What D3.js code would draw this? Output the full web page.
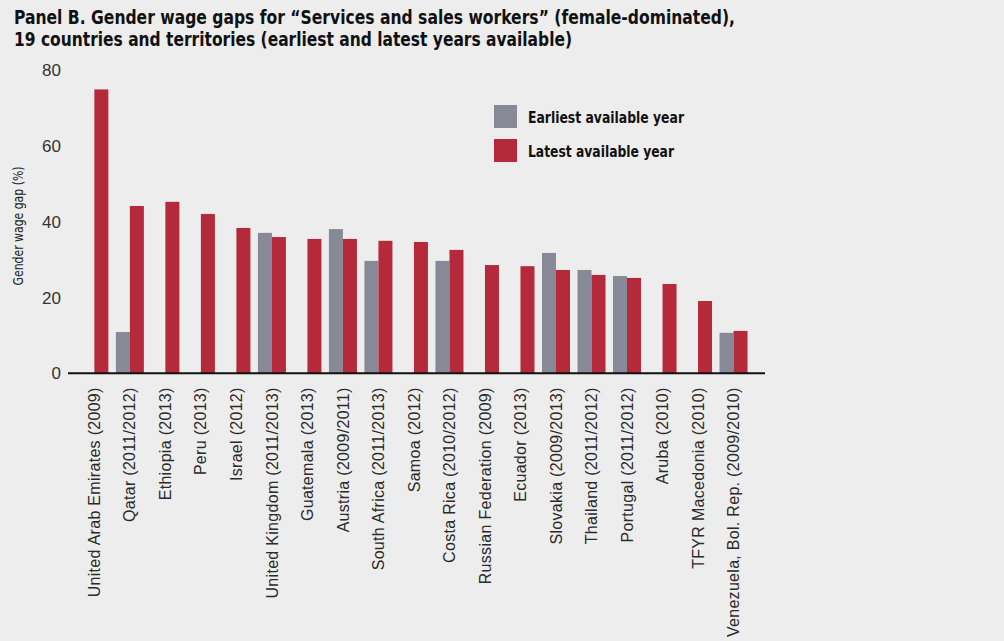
<!DOCTYPE html>
<html>
<head>
<meta charset="utf-8">
<script src="https://cdn.jsdelivr.net/npm/d3@7"></script>
<style>
  html, body { margin: 0; padding: 0; background: #ededed; }
  svg { display: block; }
</style>
</head>
<body>
<svg id="chart" width="1004" height="641"></svg>
<script>
const titleLines = [
  "Panel B. Gender wage gaps for \u201cServices and sales workers\u201d (female-dominated),",
  "19 countries and territories (earliest and latest years available)"
];
const yAxisTitle = "Gender wage gap (%)";
const categories = [
  "United Arab Emirates (2009)", "Qatar (2011/2012)", "Ethiopia (2013)", "Peru (2013)",
  "Israel (2012)", "United Kingdom (2011/2013)", "Guatemala (2013)", "Austria (2009/2011)",
  "South Africa (2011/2013)", "Samoa (2012)", "Costa Rica (2010/2012)", "Russian Federation (2009)",
  "Ecuador (2013)", "Slovakia (2009/2013)", "Thailand (2011/2012)", "Portugal (2011/2012)",
  "Aruba (2010)", "TFYR Macedonia (2010)", "Venezuela, Bol. Rep. (2009/2010)"
];
const earliest = [null, 10.9, null, null, null, 37.1, null, 38.1, 29.7, null, 29.7, null, null, 31.8, 27.3, 25.7, null, null, 10.7];
const latest   = [75.0, 44.2, 45.3, 42.1, 38.4, 36.0, 35.5, 35.5, 35.0, 34.7, 32.6, 28.6, 28.3, 27.3, 26.0, 25.2, 23.6, 19.1, 11.2];
const seriesNames = ["Earliest available year", "Latest available year"];
const seriesColors = ["#878a96", "#b52a3b"];
const yTicks = [0, 20, 40, 60, 80];

const svg = d3.select("#chart");
const condensed = "'Liberation Sans Narrow', 'DejaVu Sans Condensed', 'Roboto Condensed', sans-serif";

// Title
const title = svg.append("g");
titleLines.forEach((t, i) => {
  title.append("text")
    .attr("x", 14).attr("y", 24 + i * 22)
    .attr("font-family", condensed)
    .attr("font-weight", "bold")
    .attr("font-size", 19)
    .attr("fill", "#111")
    .attr("textLength", i === 0 ? 721 : 558)
    .attr("lengthAdjust", "spacingAndGlyphs")
    .text(t);
});

const y = d3.scaleLinear().domain([0, 80]).range([373.3, 70.5]);
const x = d3.scaleBand().domain(categories).range([76.6, 751.3]).paddingInner(0.2115).paddingOuter(0.1058);
const xs = d3.scaleBand().domain([0, 1]).range([0, x.bandwidth()]);

// Y tick labels
const yAxis = d3.axisLeft(y).tickValues(yTicks).tickSize(0).tickPadding(0);
const yg = svg.append("g").attr("transform", "translate(61,0)").call(yAxis);
yg.select(".domain").remove();
yg.selectAll("text")
  .attr("font-family", "'Liberation Sans', Arial, sans-serif")
  .attr("font-size", 17)
  .attr("fill", "#333");

// Y axis title
svg.append("text")
  .attr("transform", "translate(23,226) rotate(-90)")
  .attr("text-anchor", "middle")
  .attr("font-family", condensed)
  .attr("font-size", 14)
  .attr("fill", "#222")
  .attr("textLength", 119)
  .attr("lengthAdjust", "spacingAndGlyphs")
  .text(yAxisTitle);

// Bars
const data = categories.map((c, i) => ({ c, vals: [earliest[i], latest[i]] }));
const groups = svg.append("g").selectAll("g").data(data).join("g")
  .attr("transform", d => `translate(${x(d.c)},0)`);
groups.selectAll("rect")
  .data(d => d.vals.map((v, k) => ({ v, k })).filter(e => e.v !== null))
  .join("rect")
  .attr("x", e => xs(e.k))
  .attr("width", xs.bandwidth())
  .attr("y", e => y(e.v))
  .attr("height", e => y(0) - y(e.v))
  .attr("fill", e => seriesColors[e.k]);

// X axis line
svg.append("line")
  .attr("x1", 68).attr("x2", 765)
  .attr("y1", y(0)).attr("y2", y(0))
  .attr("stroke", "#111").attr("stroke-width", 2);

// X labels
const xAxis = d3.axisBottom(x).tickSize(0).tickPadding(0);
const xg = svg.append("g").attr("transform", `translate(0,${y(0)})`).call(xAxis);
xg.select(".domain").remove();
xg.selectAll("text")
  .attr("font-family", "'Liberation Sans', Arial, sans-serif")
  .attr("font-size", 16)
  .attr("letter-spacing", "0.3px")
  .attr("fill", "#2a2a2a")
  .attr("text-anchor", "end")
  .attr("dy", "0.35em")
  .attr("transform", "translate(0,14) rotate(-90)")
  .attr("x", 0).attr("y", 0);

// Legend
const legendLengths = [156, 146];
const legend = svg.append("g");
seriesNames.forEach((s, i) => {
  legend.append("rect")
    .attr("x", 494).attr("y", 105 + i * 34)
    .attr("width", 23).attr("height", 23)
    .attr("fill", seriesColors[i]);
  legend.append("text")
    .attr("x", 528).attr("y", 117 + i * 34)
    .attr("dy", "0.35em")
    .attr("font-family", condensed)
    .attr("font-weight", "bold")
    .attr("font-size", 16)
    .attr("fill", "#111")
    .attr("textLength", legendLengths[i])
    .attr("lengthAdjust", "spacingAndGlyphs")
    .text(s);
});
</script>
</body>
</html>
